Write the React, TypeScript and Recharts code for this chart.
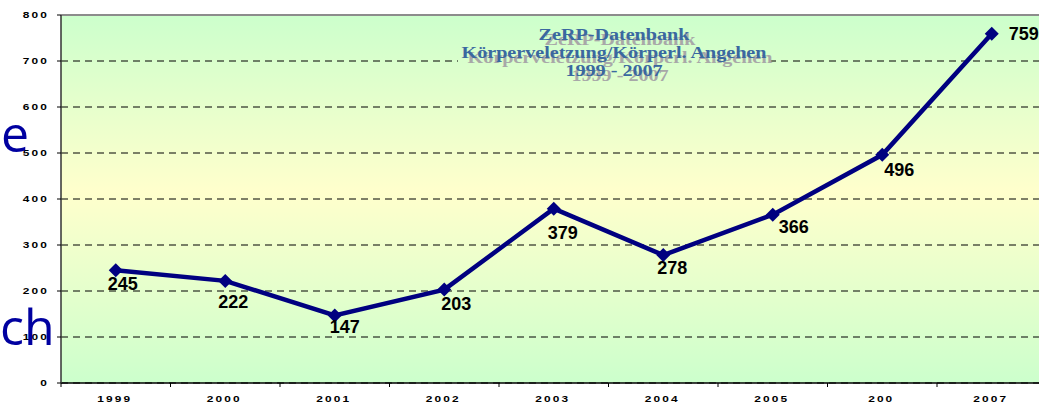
import React from "react";
import {
  LineChart,
  Line,
  XAxis,
  YAxis,
  CartesianGrid,
  ReferenceLine,
  LabelList,
} from "recharts";

const years = ["1999", "2000", "2001", "2002", "2003", "2004", "2005", "200", "2007"];
const cases = [245, 222, 147, 203, 379, 278, 366, 496, 759];
const yTicks = [0, 100, 200, 300, 400, 500, 600, 700, 800];
const titleLines = ["ZeRP-Datenbank", "Körperveletzung/Körperl. Angehen", "1999 - 2007"];

// where each value label sits relative to its marker (dx, dy)
const labelNudge: Array<[number, number]> = [
  [7, 14],
  [8, 21],
  [10, 12],
  [12, 14],
  [9, 24],
  [9, 13],
  [21, 12],
  [17, 15],
  [32, 0],
];

// points sit in the middle of each year slot, tick marks on the slot edges
const data = years.map((year, i) => ({ year, pos: i + 0.5, value: cases[i] }));
const xTicks = Array.from({ length: years.length * 2 + 1 }, (_, i) => i / 2);

const AXIS_FONT = "'Liberation Sans', Arial, sans-serif";
const NAVY = "#000080";
// the original slide stretched the small axis text sideways
const STRETCH = 1.4;

function AxisText({ x, y, anchor, children }: any) {
  return (
    <g transform={`translate(${x},${y}) scale(${STRETCH},1)`}>
      <text
        x={0}
        y={0}
        textAnchor={anchor}
        dominantBaseline="central"
        fontFamily={AXIS_FONT}
        fontWeight="bold"
        fontSize={8.5}
        letterSpacing={1.5}
        fill="#000"
      >
        {children}
      </text>
    </g>
  );
}

function XTick({ x, y, payload }: any) {
  const v = payload.value as number;
  if (Number.isInteger(v)) {
    return <line x1={x} x2={x} y1={y} y2={y + 4} stroke="#000" strokeWidth={1} />;
  }
  return (
    <AxisText x={x - 1} y={y + 16} anchor="middle">
      {years[Math.floor(v)]}
    </AxisText>
  );
}

function YTick({ x, y, payload }: any) {
  return (
    <AxisText x={x} y={y} anchor="end">
      {payload.value}
    </AxisText>
  );
}

function Diamond({ cx, cy, index }: any) {
  if (cx == null || cy == null) return null;
  const r = 7;
  return (
    <polygon
      key={`d-${index}`}
      points={`${cx},${cy - r} ${cx + r},${cy} ${cx},${cy + r} ${cx - r},${cy}`}
      fill={NAVY}
    />
  );
}

function PointLabel({ x, y, value, index }: any) {
  const [dx, dy] = labelNudge[index] ?? [9, 14];
  return (
    <text
      x={x + dx}
      y={y + dy}
      textAnchor="middle"
      dominantBaseline="central"
      fontFamily={AXIS_FONT}
      fontWeight="bold"
      fontSize={18}
      fill="#000"
    >
      {value}
    </text>
  );
}

export default function App() {
  const titleY = [39.5, 57.5, 75.5];
  return (
    <div
      style={{
        position: "absolute",
        left: 0,
        top: 0,
        width: 1039,
        height: 403,
        overflow: "hidden",
        background: "#fff",
      }}
    >
      <LineChart
        width={1060}
        height={403}
        data={data}
        margin={{ top: 15, right: 13.5, bottom: 0, left: 0 }}
      >
        <CartesianGrid
          vertical={false}
          stroke="#000"
          strokeDasharray="7 5"
          fill="url(#bgFade)"
          fillOpacity={1}
        />
        <XAxis
          dataKey="pos"
          type="number"
          domain={[0, years.length]}
          ticks={xTicks}
          interval={0}
          tickLine={false}
          tickSize={0}
          tickMargin={0}
          tick={<XTick />}
          axisLine={{ stroke: "#000", strokeWidth: 1.5 }}
          height={20}
        />
        <YAxis
          domain={[0, 800]}
          ticks={yTicks}
          interval={0}
          width={61}
          tickSize={4}
          tickMargin={8}
          tickLine={{ stroke: "#000" }}
          tick={<YTick />}
          axisLine={{ stroke: "#333", strokeWidth: 1.5 }}
        />
        <ReferenceLine y={800} stroke="#8c8c8c" strokeWidth={2} />
        <Line
          type="linear"
          dataKey="value"
          stroke={NAVY}
          strokeWidth={4.5}
          dot={<Diamond />}
          activeDot={false}
          isAnimationActive={false}
        >
          <LabelList dataKey="value" content={<PointLabel />} />
        </Line>
      </LineChart>
      <svg
        width={1039}
        height={403}
        style={{ position: "absolute", left: 0, top: 0, pointerEvents: "none" }}
      >
        <defs>
          <linearGradient id="bgFade" gradientUnits="userSpaceOnUse" x1={0} y1={15} x2={0} y2={383}>
            <stop offset="0" stopColor="#ccffcc" />
            <stop offset="0.48" stopColor="#ffffcc" />
            <stop offset="1" stopColor="#ccffcc" />
          </linearGradient>
        </defs>
        {/* title box hides the grid line behind it */}
        <rect x={458} y={44} width={312} height={36} fill="url(#bgFade)" />
        <g
          fontFamily="'Liberation Serif', 'Times New Roman', serif"
          fontWeight="bold"
          fontSize={17.5}
          textAnchor="middle"
        >
          {titleLines.map((t, i) => (
            <g key={`s${i}`} transform={`translate(620,${titleY[i] + 5.5}) scale(1.15,1)`}>
              <text x={0} y={0} fill="#a8a8a8">
                {t}
              </text>
            </g>
          ))}
          {titleLines.map((t, i) => (
            <g key={`t${i}`} transform={`translate(614,${titleY[i]}) scale(1.15,1)`}>
              <text x={0} y={0} fill="#3a68a0">
                {t}
              </text>
            </g>
          ))}
        </g>
        <g fontFamily="'Open Sans', sans-serif" fontSize={50} fill="#0000a0">
          <text x={1} y={152}>e</text>
          <text x={0} y={345}>ch</text>
        </g>
      </svg>
    </div>
  );
}
